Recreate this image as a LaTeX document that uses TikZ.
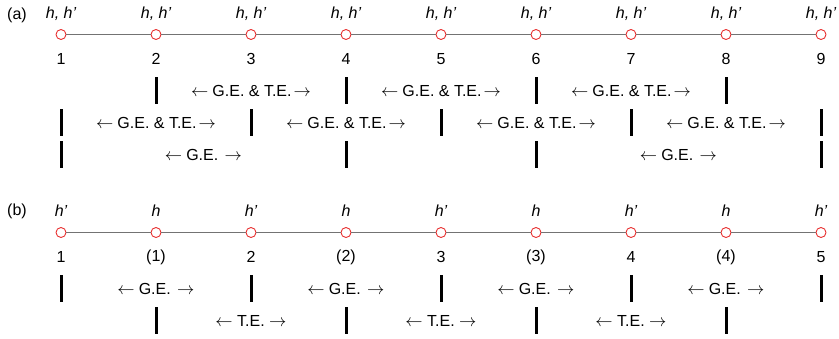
\documentclass[tikz,border=0pt]{standalone}
\usepackage{fontspec}
\setmainfont{Liberation Sans}
\definecolor{siteRed}{RGB}{232,48,48}
\newcommand{\LA}{$\leftarrow$\hspace{4pt}}
\newcommand{\RA}{\hspace{2pt}$\rightarrow$}
\begin{document}
\begin{tikzpicture}[x=1pt,y=-1pt,
  site/.style={circle,draw=siteRed,line width=0.9pt,fill=white,minimum size=10pt,inner sep=0pt},
  axis/.style={draw=black!55,line width=1.1pt},
  bar/.style={fill=black,draw=none,minimum width=3pt,minimum height=27pt,inner sep=0pt},
  lab/.style={font=\fontsize{16}{18}\selectfont,inner sep=0pt,anchor=center},
  toplab/.style={lab,font=\fontsize{16}{18}\selectfont\itshape}
]
\useasboundingbox (0,0) rectangle (839,338);

% ---------- (a) ----------
\node[lab] (la) at (17,15) {(a)};
\foreach \i [evaluate=\i as \xx using 61+95*(\i-1)] in {1,...,9}{
  \node[site] (a\i) at (\xx,34.5) {};
  \node[toplab] (ha\i) at (\xx,14) {h, h’};
  \node[lab] (na\i) at (\xx,59) {\i};
}
\foreach \i [evaluate=\i as \j using int(\i+1)] in {1,...,8}{
  \draw[axis] (a\i) -- (a\j);
}
% row 1
\foreach \k/\xx in {1/156,2/346,3/536,4/726}{
  \node[bar] (ra1b\k) at (\xx,90) {};
}
\foreach \k/\xx in {1/251,2/441,3/631}{
  \node[lab] (ra1t\k) at (\xx,91) {\LA G.E. \& T.E.\RA};
}
% row 2
\foreach \k/\xx in {1/61,2/251,3/441,4/631,5/821}{
  \node[bar] (ra2b\k) at (\xx,122) {};
}
\foreach \k/\xx in {1/156,2/346,3/536,4/726}{
  \node[lab] (ra2t\k) at (\xx,123) {\LA G.E. \& T.E.\RA};
}
% row 3
\foreach \k/\xx in {1/61,2/346,3/536,4/821}{
  \node[bar] (ra3b\k) at (\xx,154) {};
}
\foreach \k/\xx in {1/203.5,2/678.5}{
  \node[lab] (ra3t\k) at (\xx,155) {\LA G.E. \RA};
}

% ---------- (b) ----------
\node[lab] (lb) at (17,211) {(b)};
\foreach \i/\t/\n [evaluate=\i as \xx using 61+95*(\i-1)] in
  {1/h’/1,2/h/(1),3/h’/2,4/h/(2),5/h’/3,6/h/(3),7/h’/4,8/h/(4),9/h’/5}{
  \node[site] (b\i) at (\xx,232.5) {};
  \node[toplab] (hb\i) at (\xx,211) {\t};
  \node[lab] (nb\i) at (\xx,257) {\n};
}
\foreach \i [evaluate=\i as \j using int(\i+1)] in {1,...,8}{
  \draw[axis] (b\i) -- (b\j);
}
% row 1
\foreach \k/\xx in {1/61,2/251,3/441,4/631,5/821}{
  \node[bar] (rb1b\k) at (\xx,288) {};
}
\foreach \k/\xx in {1/156,2/346,3/536,4/726}{
  \node[lab] (rb1t\k) at (\xx,289) {\LA G.E. \RA};
}
% row 2
\foreach \k/\xx in {1/156,2/346,3/536,4/726}{
  \node[bar] (rb2b\k) at (\xx,320) {};
}
\foreach \k/\xx in {1/251,2/441,3/631}{
  \node[lab] (rb2t\k) at (\xx,321) {$\leftarrow$ T.E. $\rightarrow$};
}
\end{tikzpicture}
\end{document}
